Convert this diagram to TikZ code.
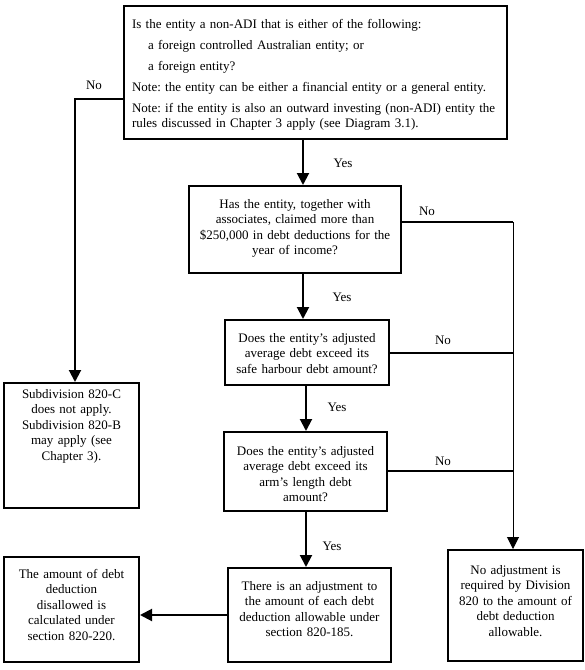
\documentclass[tikz,border=0pt]{standalone}
\usepackage{fontspec}
\setmainfont{Liberation Serif}
\usetikzlibrary{arrows.meta}
\frenchspacing

\begin{document}
\begin{tikzpicture}[x=1pt, y=-1pt,
    box/.style={rectangle, draw, line width=2pt, anchor=north west, inner xsep=2pt, inner ysep=0pt, align=center, font=\fontsize{13}{15.5}\selectfont},
    lbl/.style={inner sep=1pt, font=\fontsize{13}{15.5}\selectfont},
    link/.style={line width=2pt},
    arr/.style={line width=2pt, -{Triangle[length=12pt, width=12pt]}},
    thinarr/.style={line width=1pt, -{Triangle[length=12pt, width=12pt]}},
]
    \useasboundingbox (0,0) rectangle (585,670);

    % questions
    \node[box, align=left, inner xsep=8pt, text width=367pt, text height=22pt, text depth=111pt] (q1) at (123,5) {Is the entity a non-ADI that is either of the following:\\[5.5pt]
        \hspace*{16pt}a foreign controlled Australian entity; or\\[5.5pt]
        \hspace*{16pt}a foreign entity?\\[5.5pt]
        Note: the entity can be either a financial entity or a general entity.\\[5.5pt]
        Note: if the entity is also an outward investing (non-ADI) entity the\\
        rules discussed in Chapter 3 apply (see Diagram 3.1).};
    \node[box, text width=208pt, text height=22pt, text depth=65pt] (q2) at (188,185) {Has the entity, together with\\ associates, claimed more than\\ \$250,000 in debt deductions for the\\ year of income?};
    \node[box, text width=160pt, text height=22pt, text depth=43pt] (q3) at (224,319) {Does the entity’s adjusted\\ average debt exceed its\\ safe harbour debt amount?};
    \node[box, text width=159pt, text height=23pt, text depth=56pt] (q4) at (223,431) {Does the entity’s adjusted\\ average debt exceed its\\ arm’s length debt\\ amount?};

    % outcomes
    \node[box, text width=159pt, text height=22pt, text depth=72pt] (act) at (227,567) {There is an adjustment to\\ the amount of each debt\\ deduction allowable under\\ section 820-185.};
    \node[box, text width=131pt, text height=15pt, text depth=110pt] (sub) at (3,382) {Subdivision 820-C\\ does not apply.\\ Subdivision 820-B\\ may apply (see\\ Chapter 3).};
    \node[box, text width=131pt, text height=21pt, text depth=84pt] (calc) at (3,556) {The amount of debt\\ deduction\\ disallowed is\\ calculated under\\ section 820-220.};
    \node[box, text width=131pt, text height=24pt, text depth=87pt] (none) at (447,549) {No adjustment is\\ required by Division\\ 820 to the amount of\\ debt deduction\\ allowable.};

    % bends
    \coordinate (bendL) at (75,99);
    \coordinate (j2) at (513,222);
    \coordinate (j3) at (513,353);
    \coordinate (j4) at (513,471);
    \coordinate (c1) at (303,0);
    \coordinate (c2) at (306,0);

    % connectors
    \draw[arr] (q1.west |- bendL) -- (bendL) -- (sub.north -| bendL);
    \draw[arr] (q1.south -| c1) -- (q2.north -| c1);
    \draw[arr] (q2.south -| c1) -- (q3.north -| c1);
    \draw[arr] (q3.south -| c2) -- (q4.north -| c2);
    \draw[arr] (q4.south -| c2) -- (act.north -| c2);
    \draw[arr] (act.west) -- (calc.east |- act.west);
    \draw[link] (q2.east |- j2) -- (j2);
    \draw[link] (q3.east |- j3) -- (j3);
    \draw[link] (q4.east |- j4) -- (j4);
    \draw[thinarr] (j2) -- (none.north -| j2);

    % labels
    \node[lbl] (no1) at (94,85) {No};
    \node[lbl] (yes1) at (343,163) {Yes};
    \node[lbl] (no2) at (427,211) {No};
    \node[lbl] (yes2) at (342,297) {Yes};
    \node[lbl] (no3) at (443,340) {No};
    \node[lbl] (yes3) at (337,407) {Yes};
    \node[lbl] (no4) at (443,461) {No};
    \node[lbl] (yes4) at (332,546) {Yes};
\end{tikzpicture}
\end{document}
